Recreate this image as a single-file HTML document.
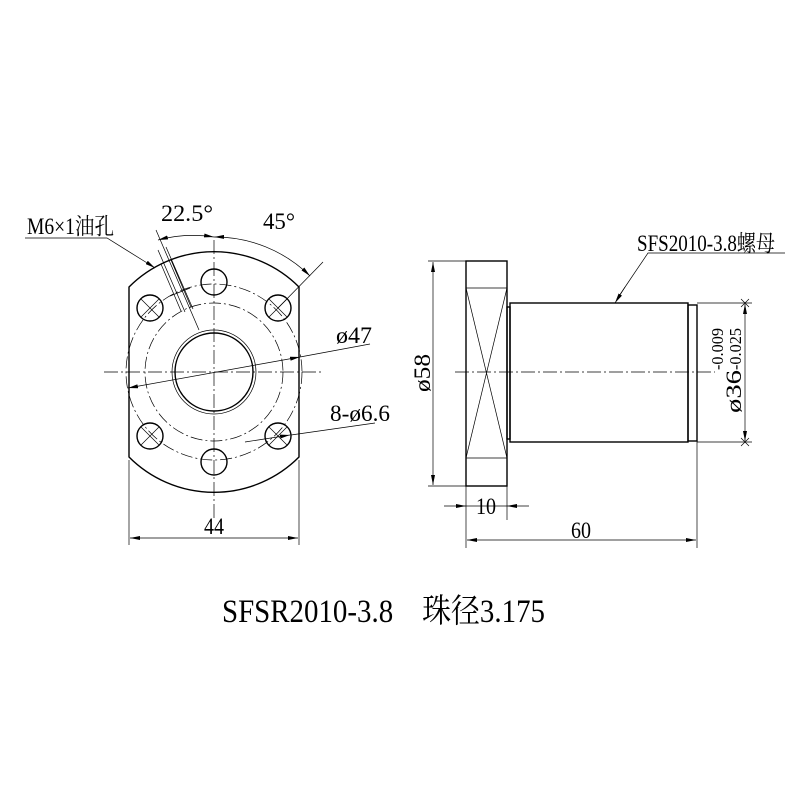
<!DOCTYPE html>
<html><head><meta charset="utf-8"><style>html,body{margin:0;padding:0;background:#fff}svg{display:block}</style></head>
<body>
<svg width="800" height="800" viewBox="0 0 800 800" xmlns="http://www.w3.org/2000/svg" font-family="'Liberation Serif','Noto Serif CJK SC',serif" fill="none" stroke="#000">
<defs>
<marker id="a" viewBox="0 0 10 4" refX="10" refY="2" markerWidth="10" markerHeight="4" orient="auto-start-reverse" markerUnits="userSpaceOnUse"><path d="M0,0 L10,2 L0,4z" fill="#000" stroke="none"/></marker>
</defs>
<g stroke-width="1.4">
<path d="M129,287 A120,120 0 0 1 299,287 L299,457 A120,120 0 0 1 129,457 Z"/>
<circle cx="214" cy="372" r="39"/>
<circle cx="214" cy="282" r="13"/><circle cx="214" cy="462" r="13"/>
<circle cx="150" cy="308" r="13"/><circle cx="278" cy="308" r="13"/>
<circle cx="150" cy="436" r="13"/><circle cx="278" cy="436" r="13"/>
</g>
<g stroke-width="0.7">
<circle cx="214" cy="372" r="42"/>
<circle cx="214" cy="372" r="88" stroke-dasharray="12,3,2,3"/>
<circle cx="214" cy="372" r="69" stroke-dasharray="12,3,2,3"/>
<path d="M104,372 H324 M214,240 V520" stroke-dasharray="14,3,2,3"/>
<path d="M141,299 l18,18 M159,299 l-18,18 M269,299 l18,18 M287,299 l-18,18 M141,427 l18,18 M159,427 l-18,18 M269,427 l18,18 M287,427 l-18,18"/>
<path d="M156,230 L199,330"/>
<path d="M158,250 L185,312 M166,247 L193,309 M161,264 L181,311 M171,260 L191,307"/>
<path d="M170,296 L190,288"/>
<path d="M158,240 A135,135 0 0 1 214,237" marker-start="url(#a)" marker-end="url(#a)"/>
<path d="M214,237 A135,135 0 0 1 310,276" marker-start="url(#a)" marker-end="url(#a)"/>
<path d="M278,308 L323,262"/>
<path d="M128,388 L300,357" marker-start="url(#a)" marker-end="url(#a)"/>
<path d="M300,357 L370,344"/>
<path d="M245,442 L290,435" marker-end="url(#a)"/>
<path d="M291,435 L375,423"/>
<path d="M25,238 H107 L152,266" />
<path d="M152,266 L155,268" marker-end="url(#a)"/>
<path d="M129,460 V545 M299,460 V545"/>
<path d="M130,538 H298" marker-start="url(#a)" marker-end="url(#a)"/>
</g>
<g stroke-width="1.4">
<rect x="466" y="261" width="41" height="225"/>
<rect x="507" y="307" width="3" height="132"/>
<rect x="510" y="303" width="178" height="139"/>
<rect x="688" y="305" width="9" height="136"/>
</g>
<g stroke-width="0.7">
<path d="M466,288 H507 M466,458 H507 M466,288 L507,458 M507,288 L466,458"/>
<path d="M455,372 H715" stroke-dasharray="14,3,2,3"/>
<path d="M466,261 H428 M466,486 H428"/>
<path d="M433,262 V485" marker-start="url(#a)" marker-end="url(#a)"/>
<path d="M697,303 H752 M697,442 H752 M741,299 l8,8 M749,299 l-8,8 M741,438 l8,8 M749,438 l-8,8"/>
<path d="M745,304 V441" marker-start="url(#a)" marker-end="url(#a)"/>
<path d="M466,486 V548 M507,486 V520 M697,441 V548"/>
<path d="M444,506 H466" marker-end="url(#a)"/><path d="M529,506 H507" marker-end="url(#a)"/><path d="M466,506 H507"/>
<path d="M467,540 H696" marker-start="url(#a)" marker-end="url(#a)"/>
<path d="M785,253 H648 L617,299"/><path d="M625,287 L615,303" marker-end="url(#a)"/>
</g>
<g fill="#000" stroke="none" font-size="23">
<text x="27" y="234" textLength="87" lengthAdjust="spacingAndGlyphs">M6×1油孔</text>
<text x="161" y="221" textLength="52" lengthAdjust="spacingAndGlyphs">22.5°</text>
<text x="263" y="229" textLength="32" lengthAdjust="spacingAndGlyphs">45°</text>
<text x="336" y="343" textLength="36" lengthAdjust="spacingAndGlyphs">ø47</text>
<text x="330" y="421" textLength="60" lengthAdjust="spacingAndGlyphs">8-ø6.6</text>
<text x="204" y="534" textLength="20" lengthAdjust="spacingAndGlyphs">44</text>
<text x="476" y="514" textLength="20" lengthAdjust="spacingAndGlyphs">10</text>
<text x="571" y="538" textLength="20" lengthAdjust="spacingAndGlyphs">60</text>
<text x="637" y="251" textLength="138" lengthAdjust="spacingAndGlyphs">SFS2010-3.8螺母</text>
<text transform="translate(430,392) rotate(-90)" textLength="38" lengthAdjust="spacingAndGlyphs">ø58</text>
<text transform="translate(741,413) rotate(-90)" font-size="22" textLength="43" lengthAdjust="spacingAndGlyphs">ø36</text>
<text transform="translate(741,370) rotate(-90)" font-size="17" textLength="42" lengthAdjust="spacingAndGlyphs">-0.025</text>
<text transform="translate(723,370) rotate(-90)" font-size="17" textLength="42" lengthAdjust="spacingAndGlyphs">-0.009</text>
<text x="222" y="622" font-size="33" textLength="323" lengthAdjust="spacingAndGlyphs">SFSR2010-3.8　珠径3.175</text>
</g>
</svg>
</body></html>
